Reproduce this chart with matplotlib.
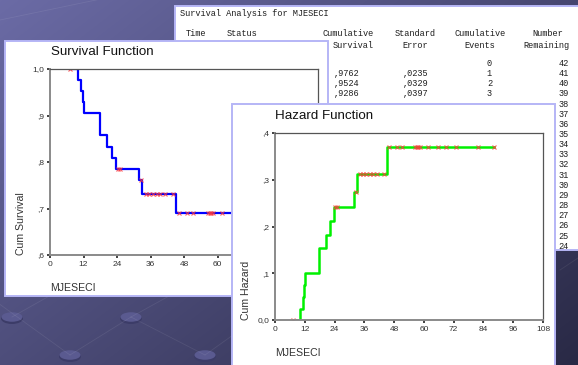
import numpy as np
import matplotlib
matplotlib.use("Agg")
import matplotlib.pyplot as plt
from matplotlib.patches import Rectangle, Ellipse

# ---- data -------------------------------------------------------------
event_times = [10.2, 11.2, 11.7, 12.0, 17.8, 20.5, 22.3, 23.8, 32.0, 33.0, 45.1]
cum_survival = [0.9762, 0.9524, 0.9286, 0.9048, 0.8571, 0.8333, 0.8095,
                0.7857, 0.7604, 0.7315, 0.6910]
cum_hazard = [0.024, 0.049, 0.074, 0.100, 0.154, 0.182, 0.211,
              0.241, 0.274, 0.313, 0.370]
censored_times = [7.3, 24.3, 25.0, 32.5, 34.3, 35.6, 36.8, 38.3, 39.5, 41.2,
                  44.0, 46.1, 49.0, 51.1, 56.6, 57.2, 57.8, 58.5, 61.5, 65.6,
                  68.9, 72.9, 81.7, 88.2]

surv_xticks = [0, 12, 24, 36, 48, 60]
surv_yticks = [0.6, 0.7, 0.8, 0.9, 1.0]
surv_yticklabels = [",6", ",7", ",8", ",9", "1,0"]
haz_xticks = [0, 12, 24, 36, 48, 60, 72, 84, 96, 108]
haz_yticks = [0.0, 0.1, 0.2, 0.3, 0.4]
haz_yticklabels = ["0,0", ",1", ",2", ",3", ",4"]

table_headers_1 = ["Time", "Status", "Cumulative", "Standard", "Cumulative", "Number"]
table_headers_2 = ["Survival", "Error", "Events", "Remaining"]
table_cum_surv = ["", ",9762", ",9524", ",9286"]
table_std_err = ["", ",0235", ",0329", ",0397"]
table_events = ["0", "1", "2", "3"]
table_remaining = [42, 41, 40, 39, 38, 37, 36, 35, 34, 33, 32, 31, 30, 29,
                   28, 27, 26, 25, 24]

# ---- figure ------------------------------------------------------------
W, H = 578, 365
fig = plt.figure(figsize=(W / 100, H / 100), dpi=100)

SANS = "Liberation Sans"
MONO = "Liberation Mono"
BORDER = "#b6b6f6"


def pixel_axes(x0, y0, x1, y1, z):
    ax = fig.add_axes([x0 / W, 1 - y1 / H, (x1 - x0) / W, (y1 - y0) / H], zorder=z)
    return ax


def panel(x0, y0, x1, y1, z):
    ax = pixel_axes(x0, y0, x1, y1, z)
    ax.set_xlim(x0, x1)
    ax.set_ylim(y1, y0)
    ax.axis("off")
    ax.add_patch(Rectangle((x0 + 1, y0 + 1), x1 - x0 - 2, y1 - y0 - 2,
                           facecolor="white", edgecolor=BORDER, lw=1.4,
                           clip_on=False))
    return ax


# slide background
bg = pixel_axes(0, 0, W, H, 0)
yy, xx = np.mgrid[0:H, 0:W]
t = 0.55 * xx / W + 0.45 * yy / H
c0 = np.array([0.42, 0.42, 0.65])
c1 = np.array([0.16, 0.16, 0.27])
img = c0[None, None, :] * (1 - t[..., None]) + c1[None, None, :] * t[..., None]
bg.imshow(img, extent=(0, W, H, 0), aspect="auto")
bg.set_xlim(0, W)
bg.set_ylim(H, 0)
bg.axis("off")
for (x1_, y1_), (x2_, y2_) in [((-20, 290), (70, 355)), ((70, 355), (131, 317)),
                               ((131, 317), (205, 355)), ((12, 317), (60, 290)),
                               ((131, 317), (180, 290)), ((205, 355), (240, 330)),
                               ((0, 20), (120, -5)), ((560, 270), (590, 250))]:
    bg.plot([x1_, x2_], [y1_, y2_], color="white", alpha=0.08, lw=0.6)
for cx, cy in [(12, 317), (131, 317), (70, 355), (205, 355)]:
    bg.add_patch(Ellipse((cx, cy + 1.5), 22, 11, facecolor="#3c3c68", edgecolor="none"))
    bg.add_patch(Ellipse((cx, cy), 21, 9.5, facecolor="#5a5a90", edgecolor="none"))

# ---- text output table --------------------------------------------------
tab = panel(174, 5, 600, 251, 1)
tkw = dict(family=MONO, fontsize=6.2, color="#1e1e1e", va="center", clip_on=True)
tab.text(180, 14, "Survival Analysis for MJESECI", ha="left", **tkw)
for s, x, ha in zip(table_headers_1, [186, 227, 374, 436, 506, 563],
                    ["left", "left", "right", "right", "right", "right"]):
    tab.text(x, 34, s, ha=ha, **tkw)
for s, x in zip(table_headers_2, [374, 428, 495, 570]):
    tab.text(x, 45.5, s, ha="right", **tkw)
row_y = [63.5 + 10.15 * i for i in range(len(table_remaining))]
for i, y in enumerate(row_y):
    if i < len(table_events):
        tab.text(360, y, table_cum_surv[i], ha="right", **tkw)
        tab.text(429, y, table_std_err[i], ha="right", **tkw)
        tab.text(492, y, table_events[i], ha="right", **tkw)
    tab.text(569, y, str(table_remaining[i]), ha="right", **tkw)


# ---- shared styling for the two plots ------------------------------------
def style_plot(ax, xticks, yticks, yticklabels):
    ax.set_xticks(xticks)
    ax.set_xticklabels([str(v) for v in xticks])
    ax.set_yticks(yticks)
    ax.set_yticklabels(yticklabels)
    ax.tick_params(direction="out", length=2, width=1.2, color="#222222",
                   labelsize=6, labelcolor="#333333", pad=2)
    for lbl in ax.get_xticklabels() + ax.get_yticklabels():
        lbl.set_family(SANS)
    for side in ["left", "bottom"]:
        ax.spines[side].set_color("#8a8a8a")
        ax.spines[side].set_linewidth(1.4)
    for side in ["top", "right"]:
        ax.spines[side].set_color("#555555")
        ax.spines[side].set_linewidth(0.9)
    ax.set_facecolor("white")


step_t = [censored_times[0]] + event_times + [censored_times[-1]]
idx = np.searchsorted(event_times, censored_times, side="right")
MARK = dict(ls="none", marker="x", color="#ff3a3a", ms=3.2, mew=0.8, alpha=0.8)

# ---- survival panel --------------------------------------------------------
sp = panel(4, 40, 329, 297, 2)
sp.text(51, 52, "Survival Function", family=SANS, fontsize=9.6, ha="left", va="center", color="#111")
sp.text(21, 255, "Cum Survival", family=SANS, fontsize=7.6, rotation=90,
        ha="center", va="bottom", color="#333")
sp.text(50, 288, "MJESECI", family=SANS, fontsize=7.6, ha="left", va="center", color="#333")

sa = pixel_axes(50, 69, 318, 255, 3)
surv_step = [1.0] + cum_survival + [cum_survival[-1]]
sa.step(step_t, surv_step, where="post", color="#0000ff", lw=1.6)
surv_at_cens = np.array([1.0] + cum_survival)[idx]
sa.plot(censored_times, surv_at_cens, **MARK)
sa.set_xlim(0, 96)
sa.set_ylim(0.6, 1.0)
style_plot(sa, surv_xticks, surv_yticks, surv_yticklabels)

# ---- hazard panel ------------------------------------------------------------
hp = panel(231, 103, 556, 375, 4)
hp.text(275, 116, "Hazard Function", family=SANS, fontsize=9.6, ha="left", va="center", color="#111")
hp.text(246, 320, "Cum Hazard", family=SANS, fontsize=7.6, rotation=90,
        ha="center", va="bottom", color="#333")
hp.text(275, 353, "MJESECI", family=SANS, fontsize=7.6, ha="left", va="center", color="#333")

ha_ = pixel_axes(275, 133, 543, 320, 5)
haz_step = [0.0] + cum_hazard + [cum_hazard[-1]]
ha_.step(step_t, haz_step, where="post", color="#00f000", lw=1.8)
haz_at_cens = np.array([0.0] + cum_hazard)[idx]
ha_.plot(censored_times, haz_at_cens, **MARK)
ha_.set_xlim(0, 108)
ha_.set_ylim(0.0, 0.4)
style_plot(ha_, haz_xticks, haz_yticks, haz_yticklabels)

fig.savefig("out.png", dpi=100)
